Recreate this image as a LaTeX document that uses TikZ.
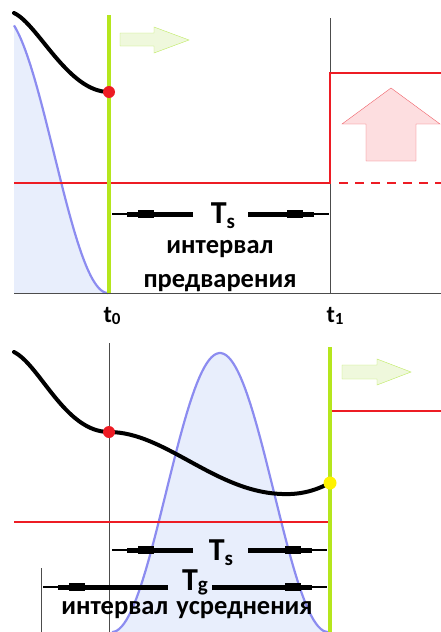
\documentclass[tikz,border=0pt]{standalone}
\usepackage{fontspec}
\setmainfont{Carlito}
\usepackage{tikz}
\usetikzlibrary{arrows.meta}
\definecolor{curveblue}{RGB}{140,140,240}
\definecolor{bellfill}{RGB}{232,238,252}
\definecolor{stepred}{RGB}{237,28,36}
\definecolor{markgreen}{RGB}{181,230,29}
\definecolor{arrowgreen}{RGB}{190,234,96}
\definecolor{arrowgreenfill}{RGB}{239,248,220}
\definecolor{arrowred}{RGB}{240,96,104}
\definecolor{arrowredfill}{RGB}{253,222,224}
\definecolor{dotyellow}{RGB}{255,242,0}

\tikzset{
  dimarrow/.style={line width=5pt, -{Rectangle[length=16pt,width=8pt,sep=0pt,line width=0pt]Rectangle[length=11pt,width=3pt,sep=0pt,line width=0pt]Rectangle[length=15pt,width=1.2pt,sep=0pt,line width=0pt]}},
  txtlbl/.style={font=\fontsize{26.5}{26.5}\selectfont\bfseries, inner sep=0pt, anchor=base},
  dimlbl/.style={font=\fontsize{32}{32}\selectfont\bfseries, inner sep=0pt, anchor=base},
  timelbl/.style={font=\fontsize{24}{24}\selectfont\bfseries, inner sep=0pt, anchor=base},
  signal/.style={black, line width=4pt, line cap=round},
  level/.style={stepred, line width=2pt},
  marker/.style={markgreen, line width=4pt},
  thin/.style={black!70, line width=0.8pt},
}
\newcommand{\subidx}[2]{\raisebox{-#1pt}{\fontsize{21}{21}\selectfont #2}}

\begin{document}
\begin{tikzpicture}[x=1pt,y=-1pt]
    \useasboundingbox (0,0) rectangle (441,632);

    %% top panel: tail of the window
    \fill[bellfill] (14,293) -- plot[domain=14:108, samples=60] (\x,{293-279*cos(\x/1.2)*cos(\x/1.2)}) -- cycle;
    \draw[curveblue, line width=2.2pt] plot[domain=14:108, samples=60] (\x,{293-279*cos(\x/1.2)*cos(\x/1.2)});
    \draw[thin] (14,293) -- (441,293);
    \draw[thin] (330,18) -- (330,293);

    %% top panel: threshold and step
    \draw[level] (14,183) -- (330,183) -- (330,73) -- (441,73);
    \draw[level, dash pattern=on 9pt off 7pt] (339,183) -- (441,183);

    %% top panel: signal
    \draw[signal] (14,13) .. controls (38,24) and (68,92) .. (109,92);
    \draw[marker] (109,15) -- (109,293);
    \fill[stepred] (109,92) circle[radius=6pt];

    %% top panel: big arrows
    \draw[arrowgreen, fill=arrowgreenfill] (120,33) -- (154,33) -- (154,27) -- (189,40) -- (154,53) -- (154,46) -- (120,46) -- cycle;
    \draw[arrowred, fill=arrowredfill] (391,88) -- (440,124) -- (416,124) -- (416,161) -- (366,161) -- (366,124) -- (342,124) -- cycle;

    %% top panel: Ts interval
    \coordinate (TsTopL) at (193,214);
    \coordinate (TsTopR) at (248,214);
    \coordinate (TsTop0) at (112,214);
    \coordinate (TsTop1) at (329,214);
    \node[dimlbl] (TsTop) at (223,223) {T\subidx{5}{s}};
    \draw[dimarrow] (TsTopL) -- (TsTop0);
    \draw[dimarrow] (TsTopR) -- (TsTop1);
    \node[txtlbl] (preA) at (220,253) {интервал};
    \node[txtlbl] (preB) at (220,287) {предварения};

    %% time labels
    \node[timelbl] (tzero) at (112,322) {t\raisebox{-2pt}{\fontsize{17}{17}\selectfont 0}};
    \node[timelbl] (tone) at (335,322) {t\raisebox{-2pt}{\fontsize{17}{17}\selectfont 1}};

    %% bottom panel: window
    \fill[bellfill] plot[domain=112:328, samples=90] (\x,{632-279*cos((\x-220)/1.2)*cos((\x-220)/1.2)}) -- cycle;
    \draw[curveblue, line width=2.2pt] plot[domain=112:328, samples=90] (\x,{632-279*cos((\x-220)/1.2)*cos((\x-220)/1.2)});
    \draw[thin] (109,343) -- (109,632);
    \draw[thin] (41,568) -- (41,632);

    %% bottom panel: levels
    \draw[level] (14,522) -- (328,522);
    \draw[level] (332,411) -- (441,411);

    %% bottom panel: signal
    \draw[signal] (14,352) .. controls (40,365) and (65,432) .. (109,432)
        .. controls (165,432) and (215,492) .. (282,494)
        .. controls (305,495) and (320,488) .. (330,483);
    \draw[marker] (330,347) -- (330,632);
    \fill[stepred] (109,432) circle[radius=6pt];
    \fill[dotyellow] (330,483) circle[radius=6.5pt];

    %% bottom panel: big arrow
    \draw[arrowgreen, fill=arrowgreenfill] (342,365) -- (377,365) -- (377,359) -- (411,372) -- (377,385) -- (377,379) -- (342,379) -- cycle;

    %% bottom panel: Ts and Tg intervals
    \coordinate (TsBotL) at (193,550);
    \coordinate (TsBotR) at (248,550);
    \coordinate (TsBot0) at (112,550);
    \coordinate (TsBot1) at (327,550);
    \node[dimlbl] (TsBot) at (221,560) {T\subidx{5}{s}};
    \draw[dimarrow] (TsBotL) -- (TsBot0);
    \draw[dimarrow] (TsBotR) -- (TsBot1);
    \coordinate (TgBotL) at (168,587);
    \coordinate (TgBotR) at (212,587);
    \coordinate (TgBot0) at (43,587);
    \coordinate (TgBot1) at (327,587);
    \node[dimlbl] (TgBot) at (195,590) {T\subidx{1}{g}};
    \draw[dimarrow] (TgBotL) -- (TgBot0);
    \draw[dimarrow] (TgBotR) -- (TgBot1);
    \node[txtlbl] (avg) at (187,614) {интервал\hspace{8pt}усреднения};
  \end{tikzpicture}
\end{document}
